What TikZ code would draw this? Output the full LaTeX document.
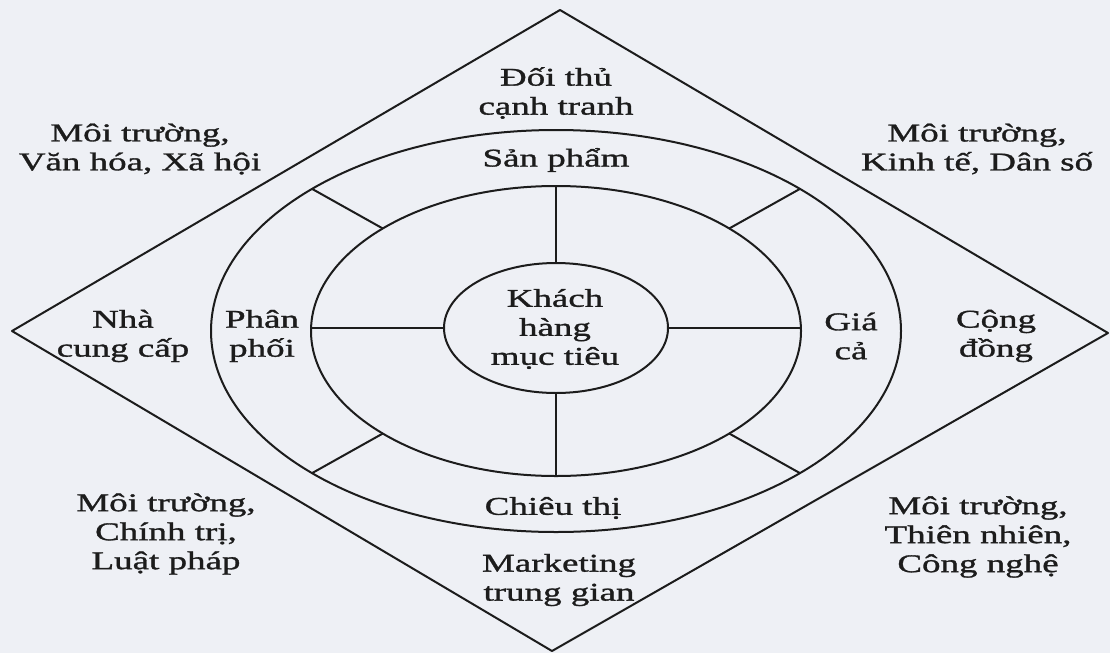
\documentclass[tikz,border=0pt]{standalone}
\usepackage{fontspec}
\setmainfont{Liberation Serif}[FakeStretch=1.45, FakeBold=1.2]
\usepackage{xcolor}
\usepackage{tikz}
\usetikzlibrary{shapes.geometric}
\definecolor{paper}{HTML}{EEF0F5}
\definecolor{ink}{HTML}{1C1C1C}

\begin{document}
\begin{tikzpicture}[
  x=1pt, y=-1pt,
  ring/.style={draw=ink, ellipse, inner sep=0pt, outer sep=0pt, line width=2pt},
  spoke/.style={draw=ink, line width=2pt, line join=round},
  lbl/.style={align=center, text=ink, inner sep=0pt, font=\fontsize{25.5}{29}\selectfont}
]
  % Page
  \fill[paper] (0,0) rectangle (1110,653);
  \useasboundingbox (0,0) rectangle (1110,653);

  % Diamond
  \coordinate (dtop) at (560,10);
  \coordinate (dright) at (1108,333);
  \coordinate (dbot) at (552,651);
  \coordinate (dleft) at (12,331);
  \draw[spoke] (dtop) -- (dright) -- (dbot) -- (dleft) -- cycle;

  % Rings
  \coordinate (c) at (556,331);
  \node[ring, minimum width=690pt, minimum height=402pt] (outer) at (c) {};
  \node[ring, minimum width=490pt, minimum height=290pt] (mid) at (c) {};
  \node[ring, minimum width=224pt, minimum height=130pt] (inner) at ([yshift=3pt]c) {};

  % Spokes
  \draw[spoke] (inner.north) -- (mid.north);
  \draw[spoke] (inner.south) -- (mid.south);
  \draw[spoke] (inner.west) -- (inner.west -| mid.west);
  \draw[spoke] (inner.east) -- (inner.east -| mid.east);
  \draw[spoke] (mid.north west) -- (outer.north west);
  \draw[spoke] (mid.north east) -- (outer.north east);
  \draw[spoke] (mid.south west) -- (outer.south west);
  \draw[spoke] (mid.south east) -- (outer.south east);

  % Centre and marketing mix
  \node[lbl] (target) at (555,329) {Khách\\hàng\\mục tiêu};
  \node[lbl] (product) at (556,160) {Sản phẩm};
  \node[lbl] (place) at (262,336) {Phân\\phối};
  \node[lbl] (price) at (851,336) {Giá\\cả};
  \node[lbl] (promo) at (553,508) {Chiêu thị};

  % Micro environment
  \node[lbl] (rival) at (556,93) {Đối thủ\\cạnh tranh};
  \node[lbl] (supplier) at (123,336) {Nhà\\cung cấp};
  \node[lbl] (public) at (996,336) {Cộng\\đồng};
  \node[lbl] (broker) at (559,580) {Marketing\\trung gian};

  % Macro environment
  \node[lbl] (social) at (140,149) {Môi trường,\\Văn hóa, Xã hội};
  \node[lbl] (economy) at (977,149) {Môi trường,\\Kinh tế, Dân số};
  \node[lbl] (politics) at (166,534) {Môi trường,\\Chính trị,\\Luật pháp};
  \node[lbl] (nature) at (978,537) {Môi trường,\\Thiên nhiên,\\Công nghệ};
\end{tikzpicture}
\end{document}
